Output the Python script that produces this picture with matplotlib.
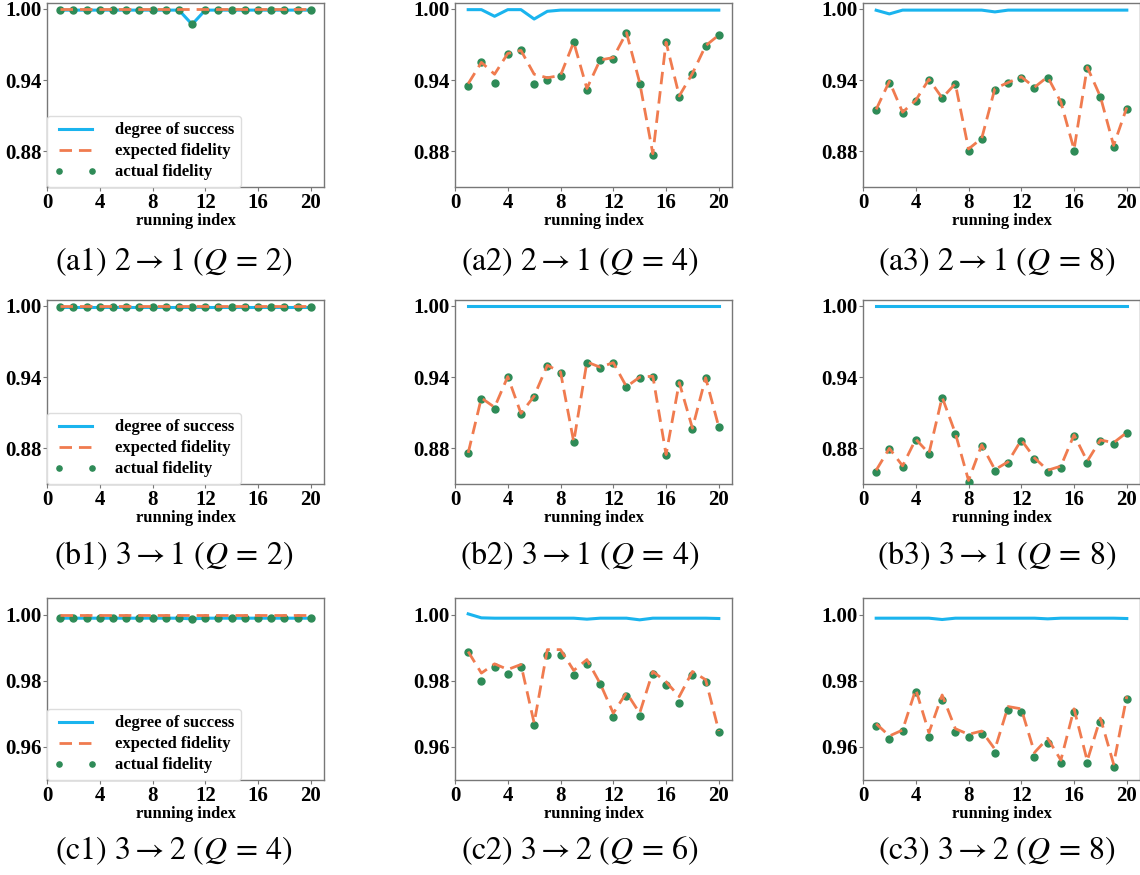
import matplotlib
matplotlib.use("Agg")
import matplotlib.pyplot as plt
import numpy as np

plt.rcParams['mathtext.fontset'] = 'stix'

x = list(range(1, 21))

# (a1) 2->1 (Q=2)
a1_success = [0.999]*10 + [0.987] + [0.999]*9
a1_expected = [1.000]*20
a1_actual = [0.999]*10 + [0.987] + [0.999]*9

# (a2) 2->1 (Q=4)
a2_success = [0.9994, 0.9994, 0.9938, 0.9994, 0.9994, 0.9915, 0.998, 0.999, 0.999, 0.999,
              0.999, 0.999, 0.999, 0.999, 0.999, 0.999, 0.999, 0.999, 0.999, 0.999]
a2_expected = [0.937, 0.955, 0.945, 0.9625, 0.965, 0.945, 0.942, 0.944, 0.972, 0.933,
               0.957, 0.959, 0.980, 0.938, 0.878, 0.972, 0.9267, 0.9456, 0.969, 0.978]
a2_actual = [0.935, 0.955, 0.938, 0.962, 0.965, 0.937, 0.9405, 0.9436, 0.972, 0.9315,
             0.957, 0.958, 0.980, 0.937, 0.877, 0.972, 0.926, 0.945, 0.969, 0.978]

# (a3) 2->1 (Q=8)
a3_success = [0.9989, 0.9958, 0.999, 0.999, 0.999, 0.999, 0.999, 0.999, 0.999, 0.9975,
              0.999, 0.999, 0.999, 0.999, 0.999, 0.999, 0.999, 0.999, 0.999, 0.999]
a3_expected = [0.9154, 0.939, 0.913, 0.923, 0.9408, 0.925, 0.937, 0.882, 0.891, 0.933,
               0.938, 0.9428, 0.934, 0.9428, 0.9216, 0.8816, 0.951, 0.926, 0.885, 0.917]
a3_actual = [0.9146, 0.9377, 0.9126, 0.9224, 0.9405, 0.9247, 0.9366, 0.8807, 0.8906, 0.9315,
             0.9374, 0.9422, 0.9337, 0.9422, 0.9213, 0.8801, 0.9504, 0.9255, 0.8841, 0.916]

# (b1) 3->1 (Q=2)
b1_success = [0.9994]*20
b1_expected = [1.000]*20
b1_actual = [0.9994]*20

# (b2) 3->1 (Q=4)
b2_success = [0.9996]*20
b2_expected = [0.8762, 0.9225, 0.9146, 0.9405, 0.9095, 0.924, 0.950, 0.9443, 0.8855, 0.9528,
               0.9484, 0.9522, 0.932, 0.940, 0.9408, 0.8748, 0.9355, 0.897, 0.9395, 0.898]
b2_actual = [0.8757, 0.9217, 0.9135, 0.940, 0.909, 0.9234, 0.9495, 0.9438, 0.885, 0.9523,
             0.948, 0.9518, 0.9316, 0.9396, 0.9404, 0.8743, 0.935, 0.8965, 0.939, 0.8976]

# (b3) 3->1 (Q=8)
b3_success = [0.9996]*20
b3_expected = [0.8616, 0.880, 0.8653, 0.8877, 0.8758, 0.9231, 0.8928, 0.853, 0.8829, 0.8621,
               0.8687, 0.8871, 0.8720, 0.8616, 0.8650, 0.8914, 0.8692, 0.8871, 0.8848, 0.8934]
b3_actual = [0.8601, 0.8791, 0.8644, 0.8871, 0.8749, 0.9225, 0.8919, 0.8516, 0.882, 0.861,
             0.8678, 0.8865, 0.8709, 0.8601, 0.8638, 0.8905, 0.868, 0.8865, 0.8834, 0.8928]

# (c1) 3->2 (Q=4)
c1_success = [0.9989]*10 + [0.9987] + [0.9989]*9
c1_expected = [0.9998]*20
c1_actual = [0.9989]*10 + [0.9987] + [0.9989]*9

# (c2) 3->2 (Q=6)
c2_success = [1.0002, 0.999, 0.9989, 0.9989, 0.9989, 0.9989, 0.9989, 0.9989, 0.9989, 0.9986,
              0.9989, 0.9989, 0.9989, 0.9984, 0.9989, 0.9989, 0.9989, 0.9989, 0.9989, 0.9988]
c2_expected = [0.9888, 0.9823, 0.9851, 0.9834, 0.9849, 0.9672, 0.9894, 0.9894, 0.9831, 0.9864,
               0.9792, 0.9702, 0.9764, 0.9702, 0.9828, 0.9797, 0.9752, 0.9828, 0.9803, 0.9648]
c2_actual = [0.9886, 0.980, 0.9841, 0.9819, 0.9841, 0.9665, 0.9879, 0.9879, 0.9818, 0.9851,
             0.979, 0.9689, 0.9755, 0.9692, 0.9821, 0.9787, 0.9732, 0.9818, 0.9795, 0.9645]

# (c3) 3->2 (Q=8)
c3_success = [0.9989, 0.9989, 0.9989, 0.9989, 0.9989, 0.9985, 0.9989, 0.9989, 0.9989, 0.9989,
              0.9989, 0.9989, 0.9989, 0.9987, 0.9989, 0.9989, 0.9989, 0.9989, 0.9989, 0.9988]
c3_expected = [0.967, 0.9633, 0.9651, 0.9774, 0.9643, 0.9757, 0.9655, 0.9638, 0.9648, 0.9593,
               0.9722, 0.9715, 0.9583, 0.9626, 0.956, 0.9715, 0.9558, 0.9687, 0.9548, 0.9753]
c3_actual = [0.9664, 0.9623, 0.9648, 0.9767, 0.9631, 0.9742, 0.9646, 0.963, 0.9638, 0.9583,
             0.9712, 0.9704, 0.9571, 0.9612, 0.9551, 0.9705, 0.9551, 0.9676, 0.954, 0.9745]

captions = [
    r"$\mathrm{(a1)}\ 2 \rightarrow 1\ (Q\,=\,2)$",
    r"$\mathrm{(a2)}\ 2 \rightarrow 1\ (Q\,=\,4)$",
    r"$\mathrm{(a3)}\ 2 \rightarrow 1\ (Q\,=\,8)$",
    r"$\mathrm{(b1)}\ 3 \rightarrow 1\ (Q\,=\,2)$",
    r"$\mathrm{(b2)}\ 3 \rightarrow 1\ (Q\,=\,4)$",
    r"$\mathrm{(b3)}\ 3 \rightarrow 1\ (Q\,=\,8)$",
    r"$\mathrm{(c1)}\ 3 \rightarrow 2\ (Q\,=\,4)$",
    r"$\mathrm{(c2)}\ 3 \rightarrow 2\ (Q\,=\,6)$",
    r"$\mathrm{(c3)}\ 3 \rightarrow 2\ (Q\,=\,8)$",
]

panels = [
    (a1_success, a1_expected, a1_actual),
    (a2_success, a2_expected, a2_actual),
    (a3_success, a3_expected, a3_actual),
    (b1_success, b1_expected, b1_actual),
    (b2_success, b2_expected, b2_actual),
    (b3_success, b3_expected, b3_actual),
    (c1_success, c1_expected, c1_actual),
    (c2_success, c2_expected, c2_actual),
    (c3_success, c3_expected, c3_actual),
]

xticks = [0, 4, 8, 12, 16, 20]
yticks_ab = [0.88, 0.94, 1.00]
yticks_c = [0.96, 0.98, 1.00]

BLUE = '#1ab4ee'
ORANGE = '#f07b4f'
GREEN = '#2e8b57'
SPINE = '#777777'

W, H = 1140, 875
fig = plt.figure(figsize=(W/100, H/100), dpi=100)

col_left = [47, 455, 863]
ax_w = 277
row_top = [3, 300, 598]
ax_h = [184, 184, 182]
cap_y = [262, 556, 851]
cap_x = [174, 580, 997]

serif = ['Liberation Serif', 'DejaVu Serif']

for i, (succ, exp, act) in enumerate(panels):
    r, c = divmod(i, 3)
    l = col_left[c] / W
    b = 1 - (row_top[r] + ax_h[r]) / H
    ax = fig.add_axes([l, b, ax_w / W, ax_h[r] / H])
    ax.plot(x, succ, color=BLUE, lw=2.2, label='degree of success', zorder=2)
    ax.plot(x, act, linestyle='none', marker='o', ms=5, color=GREEN,
            label='actual fidelity', zorder=3)
    ax.plot(x, exp, color=ORANGE, lw=2.0, ls=(0, (4.5, 2.5)), label='expected fidelity', zorder=4)
    ax.set_xlim(0, 21)
    if r < 2:
        ax.set_ylim(0.85, 1.005)
        ax.set_yticks(yticks_ab)
    else:
        ax.set_ylim(0.95, 1.005)
        ax.set_yticks(yticks_c)
    ax.set_yticklabels(['%.2f' % v for v in ax.get_yticks()])
    ax.set_xticks(xticks)
    for lab in ax.get_xticklabels() + ax.get_yticklabels():
        lab.set_fontfamily(serif)
        lab.set_fontweight('bold')
        lab.set_fontsize(15)
    ax.set_xlabel('running index', fontfamily=serif, fontweight='bold', fontsize=12, labelpad=0)
    ax.tick_params(axis='both', length=3, width=0.8, color=SPINE, pad=1)
    for sp in ax.spines.values():
        sp.set_color(SPINE)
        sp.set_linewidth(1.0)
    if c == 0:
        handles, labels = ax.get_legend_handles_labels()
        order = [0, 2, 1]
        ax.legend([handles[k] for k in order], [labels[k] for k in order],
                  loc='lower left', bbox_to_anchor=(0, 0), borderaxespad=0.0,
                  numpoints=2, markerscale=0.75,
                  prop={'family': serif, 'weight': 'bold', 'size': 12},
                  handlelength=2.6, handletextpad=1.1, labelspacing=0.3,
                  framealpha=1.0, edgecolor='#dddddd', fancybox=True)
    fig.text(cap_x[c] / W, 1 - cap_y[r] / H, captions[i], ha='center', va='center', fontsize=23)

fig.savefig('out.png', dpi=100)
